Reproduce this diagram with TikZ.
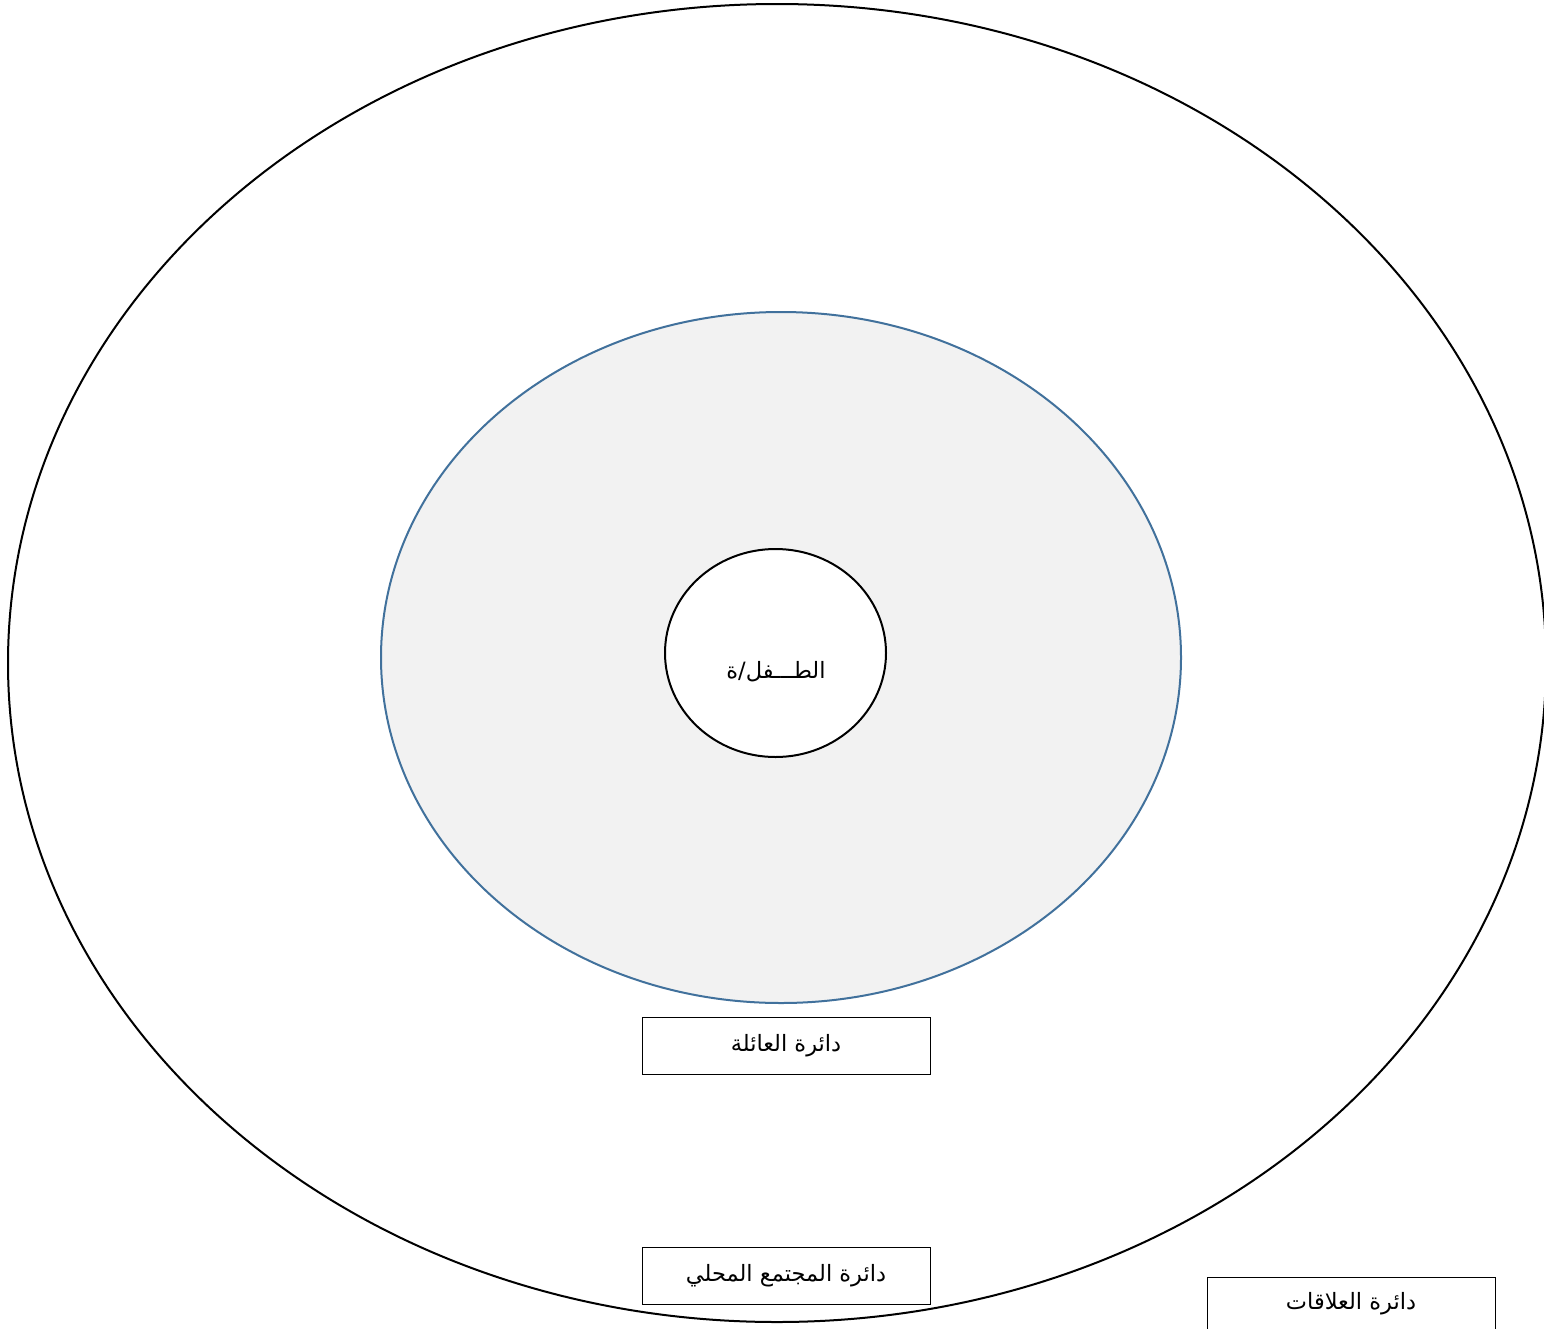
\documentclass[tikz,border=0pt]{standalone}
\usepackage{fontspec}
\usetikzlibrary{shapes.geometric}
\TeXXeTstate=1
\newfontfamily\arabicfont[Script=Arabic]{DejaVu Sans}
\definecolor{famfill}{HTML}{F2F2F2}
\definecolor{famline}{HTML}{41719C}
\tikzset{
  ring/.style={ellipse, inner sep=0pt, line width=2pt},
  artext/.style={font=\arabicfont\fontsize{22.5}{26}\selectfont},
  lbl/.style={draw=black, line width=1pt, fill=white, minimum width=288pt, minimum height=57pt, inner sep=0pt, artext},
}
\begin{document}
\begin{tikzpicture}[x=1pt,y=-1pt]
\useasboundingbox (0,0) rectangle (1544,1328);
\clip (0,0) rectangle (1544,1328);
\fill[white] (0,0) rectangle (1544,1328);
\node[ring, draw=black, minimum width=1538pt, minimum height=1318pt] (outer) at (777,663) {};
\node[ring, draw=famline, fill=famfill, minimum width=800pt, minimum height=691pt] (family-ring) at (781,657.5) {};
\node[ring, draw=black, fill=white, minimum width=221pt, minimum height=208pt] (child-ring) at (775.5,653) {};
\node[artext] (child) at (776,672) {\beginR الطـــفل/ة\endR};
\node[lbl] (family) at (786,1046) {\beginR دائرة العائلة\endR};
\node[lbl] (community) at (786,1275.5) {\beginR دائرة المجتمع المحلي\endR};
\node[lbl, anchor=north west] (relations) at (1206.5,1276.5) {};
\node[artext] (reltext) at (1351,1304) {\beginR دائرة العلاقات\endR};
\end{tikzpicture}
\end{document}
